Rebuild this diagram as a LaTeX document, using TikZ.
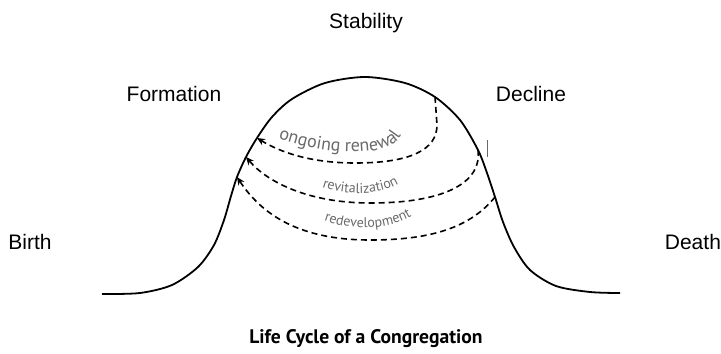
\documentclass[tikz,border=0pt]{standalone}
\usepackage{fontspec}
\setmainfont{Liberation Sans}
\newfontfamily\loopfont{PT Sans}
\usetikzlibrary{arrows.meta,decorations.text}
\definecolor{loopgray}{RGB}{105,105,105}

\begin{document}
\begin{tikzpicture}[>=Stealth, x=0.5pt, y=-0.5pt,
  stage/.style={font=\fontsize{10.5}{12}\selectfont, anchor=base},
  loopline/.style={line width=0.8pt, dash pattern=on 3pt off 2pt, -{Stealth[length=4pt,width=3.5pt]}},
  looptext/.style 2 args={decorate, decoration={text along path, text align=center,
    text={|\loopfont\fontsize{#1}{10}\selectfont\color{loopgray}|#2}}}]
\useasboundingbox (0,0) rectangle (721,353);
% stage labels
\node[stage] (stability) at (366,29) {Stability};
\node[stage] (formation) at (174,102) {Formation};
\node[stage] (decline) at (531,102) {Decline};
\node[stage] (birth) at (30,249) {Birth};
\node[stage, anchor=base east] (death) at (728,249) {Death};
\node[anchor=base, font=\loopfont\bfseries\fontsize{9.8}{12}\selectfont] (title) at (366,343) {Life Cycle of a Congregation};
% the curve of the life cycle
\draw[line width=0.9pt] plot[smooth, tension=0.5] coordinates {(102,294) (140,293) (172,285) (198,267)
  (214,245) (224,220) (231,196) (237,177) (246,157) (257,138) (272,117) (292,99) (325,83) (365,77)
  (405,83) (435,97) (460,120) (478,150) (487,173) (495,197) (503,222) (514,247) (530,270) (556,286)
  (590,292) (620,293)};
\coordinate (renewFrom) at (435,97);
\coordinate (renewTo) at (257,138);
\coordinate (revitFrom) at (478,150);
\coordinate (revitTo) at (246,157);
\coordinate (redevFrom) at (495,197);
\coordinate (redevTo) at (237,177);
% loops back to the rising side
\draw[loopline] (renewFrom) -- (437,125) .. controls (437,150) and (410,163) .. (355,163)
  .. controls (310,163) and (280,152) .. (renewTo);
\draw[loopline] (revitFrom) .. controls (482,180) and (450,203) .. (370,203)
  .. controls (310,203) and (268,183) .. (revitTo);
\draw[loopline] (redevFrom) .. controls (470,228) and (430,240) .. (370,240)
  .. controls (300,240) and (262,215) .. (redevTo);
\path[looptext={9}{ongoing renewal}] (262,132) .. controls (318,156) and (380,157) .. (396,142)
  .. controls (402,136) and (405,129) .. (407,119);
\path[looptext={7}{revitalization}] (314,184) .. controls (345,197) and (384,197) .. (406,179);
\path[looptext={7}{redevelopment}] (317,218) .. controls (350,232) and (394,231) .. (418,212);
\draw[loopgray, line width=0.5pt] (487,140) -- (487,157);
\end{tikzpicture}
\end{document}
